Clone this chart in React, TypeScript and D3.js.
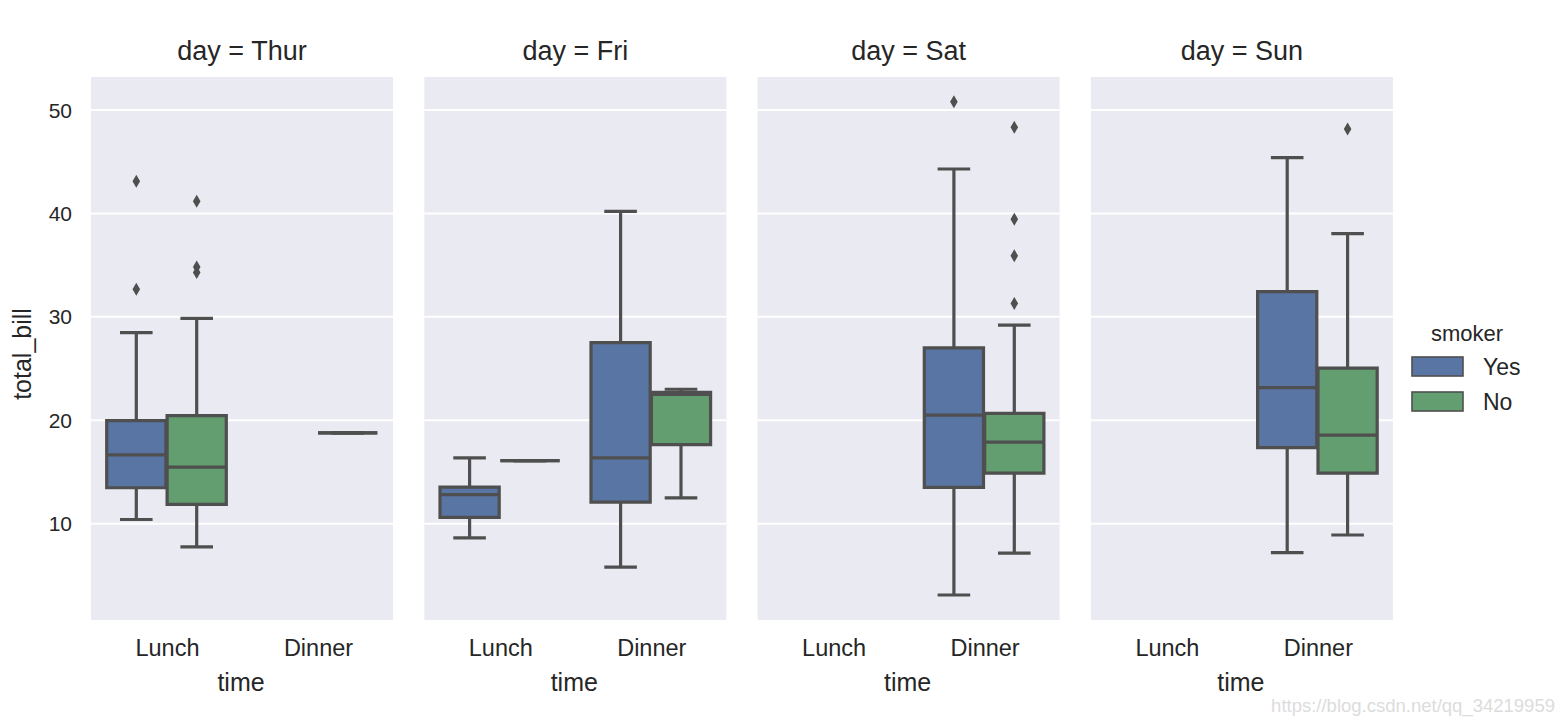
import React from "react";
import * as d3 from "d3";

const days = ["Thur", "Fri", "Sat", "Sun"];
const times = ["Lunch", "Dinner"];
const smokers = ["Yes", "No"];
const smokerColors = ["#5975A4", "#629E6F"];
const yTicks = [10, 20, 30, 40, 50];

// one entry per box (parallel arrays)
const boxDay = ["Thur", "Thur", "Thur", "Fri", "Fri", "Fri", "Fri", "Sat", "Sat", "Sun", "Sun"];
const boxTime = ["Lunch", "Lunch", "Dinner", "Lunch", "Lunch", "Dinner", "Dinner", "Dinner", "Dinner", "Dinner", "Dinner"];
const boxSmoker = ["Yes", "No", "No", "Yes", "No", "Yes", "No", "Yes", "No", "Yes", "No"];
const whiskerLow = [10.4, 7.75, 18.78, 8.63, 16.1, 5.8, 12.5, 3.1, 7.15, 7.2, 8.9];
const q1 = [13.47, 11.86, 18.78, 10.6, 16.1, 12.09, 17.65, 13.5, 14.89, 17.36, 14.89];
const median = [16.65, 15.46, 18.78, 12.8, 16.1, 16.36, 22.49, 20.5, 17.88, 23.15, 18.57];
const q3 = [19.96, 20.44, 18.78, 13.53, 16.1, 27.51, 22.69, 27.0, 20.67, 32.45, 25.05];
const whiskerHigh = [28.47, 29.85, 18.78, 16.36, 16.1, 40.2, 23.0, 44.3, 29.2, 45.4, 38.05];
const outliers = [
  [32.68, 43.11],
  [34.3, 34.83, 41.19],
  [],
  [],
  [],
  [],
  [],
  [50.81],
  [31.3, 35.9, 39.45, 48.33],
  [],
  [48.17],
];

const W = 1562;
const H = 724;
const panelLeft0 = 91;
const panelStep = 333.3;
const panelW = 302;
const panelTop = 77;
const panelBottom = 620;
const lineColor = "#4f4f4f";
const textColor = "#262626";
const font = "'Liberation Sans', Arial, sans-serif";

export default function App() {
  const y = d3.scaleLinear().domain([0.68, 53.2]).range([panelBottom, panelTop]);
  const hue = d3.scaleBand().domain(smokers).range([-0.4, 0.4]);
  const lw = 3.2;

  return (
    <div style={{ position: "fixed", left: 0, top: 0, width: W, height: H, background: "#fff" }}>
      <svg width={W} height={H} style={{ display: "block" }} fontFamily={font}>
        {days.map((day, di) => {
          const left = panelLeft0 + di * panelStep;
          const x = d3.scaleBand().domain(times).range([left, left + panelW]);
          const unit = x.bandwidth();
          const idx = boxDay.map((d, i) => (d === day ? i : -1)).filter((i) => i >= 0);
          return (
            <g key={day}>
              <rect x={left} y={panelTop} width={panelW} height={panelBottom - panelTop} fill="#EAEAF2" />
              {yTicks.map((t) => (
                <line key={t} x1={left} x2={left + panelW} y1={y(t)} y2={y(t)} stroke="#fff" strokeWidth={2} />
              ))}
              {idx.map((i) => {
                const center = x(boxTime[i])! + unit / 2 + (hue(boxSmoker[i])! + hue.bandwidth() / 2) * unit;
                const bw = hue.bandwidth() * unit * 0.98;
                const x0 = center - bw / 2;
                const x1 = center + bw / 2;
                const capHalf = bw / 4 + 1.5;
                const color = smokerColors[smokers.indexOf(boxSmoker[i])];
                const boxPath = `M${x0},${y(q1[i])}H${x1}V${y(q3[i])}H${x0}Z`;
                return (
                  <g key={i}>
                    <line x1={center} x2={center} y1={y(q3[i])} y2={y(whiskerHigh[i])} stroke={lineColor} strokeWidth={lw} />
                    <line x1={center} x2={center} y1={y(q1[i])} y2={y(whiskerLow[i])} stroke={lineColor} strokeWidth={lw} />
                    <line x1={center - capHalf} x2={center + capHalf} y1={y(whiskerHigh[i])} y2={y(whiskerHigh[i])} stroke={lineColor} strokeWidth={lw} />
                    <line x1={center - capHalf} x2={center + capHalf} y1={y(whiskerLow[i])} y2={y(whiskerLow[i])} stroke={lineColor} strokeWidth={lw} />
                    <path d={boxPath} fill={color} stroke={lineColor} strokeWidth={lw} />
                    <line x1={x0} x2={x1} y1={y(median[i])} y2={y(median[i])} stroke={lineColor} strokeWidth={lw} />
                    {outliers[i].map((v, k) => (
                      <path
                        key={k}
                        d={`M${center},${y(v) - 6.5}L${center + 3.8},${y(v)}L${center},${y(v) + 6.5}L${center - 3.8},${y(v)}Z`}
                        fill={lineColor}
                      />
                    ))}
                  </g>
                );
              })}
              <text x={left + panelW / 2} y={60} textAnchor="middle" fontSize={27} fill={textColor}>
                {`day = ${day}`}
              </text>
              {times.map((t) => (
                <text key={t} x={x(t)! + unit / 2 + 1} y={656} textAnchor="middle" fontSize={23.5} fill={textColor}>
                  {t}
                </text>
              ))}
              <text x={left + panelW / 2 - 1} y={691} textAnchor="middle" fontSize={25} fill={textColor}>
                time
              </text>
              {di === 0 &&
                yTicks.map((t) => (
                  <text key={t} x={72} y={y(t)} dy="0.36em" textAnchor="end" fontSize={21} fill={textColor}>
                    {t}
                  </text>
                ))}
            </g>
          );
        })}
        <text transform={`translate(31,354) rotate(-90)`} textAnchor="middle" fontSize={25} fill={textColor}>
          total_bill
        </text>
        <g>
          <text x={1467} y={341} textAnchor="middle" fontSize={22} fill={textColor}>
            smoker
          </text>
          {smokers.map((s, i) => (
            <g key={s}>
              <rect x={1412} y={357 + i * 35} width={51} height={19} fill={smokerColors[i]} stroke={lineColor} strokeWidth={1.6} />
              <text x={1483} y={366.5 + i * 35} dy="0.36em" fontSize={23} fill={textColor}>
                {s}
              </text>
            </g>
          ))}
        </g>
        <text x={1555} y={712} textAnchor="end" fontSize={18.5} fill="#dcdcdc">
          https://blog.csdn.net/qq_34219959
        </text>
      </svg>
    </div>
  );
}
